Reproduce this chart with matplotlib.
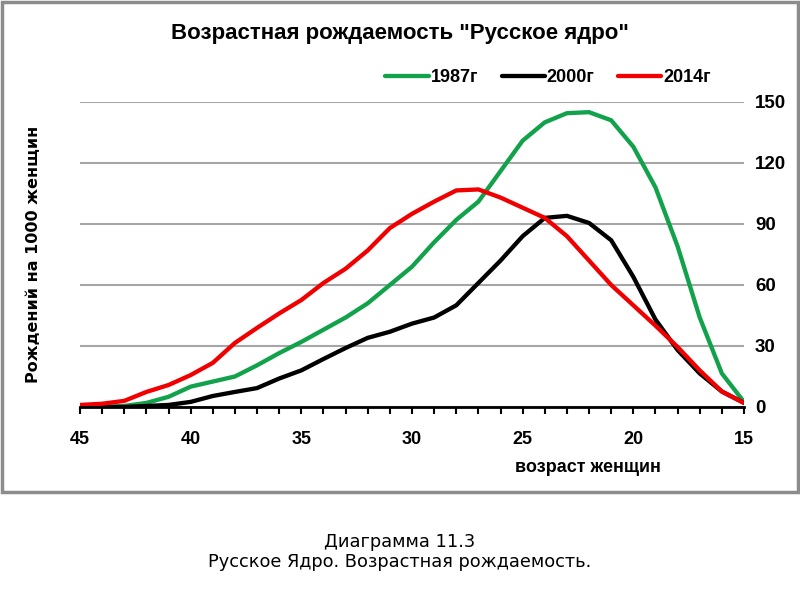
import numpy as np
import matplotlib.pyplot as plt
from matplotlib.patches import Rectangle

# age of women, from 45 down to 15
ages = list(range(45, 14, -1))

births_1987 = [0, 0, 0.5, 2, 5, 10, 12.5, 15, 20.5, 26.5, 32, 38, 44, 51, 60, 69,
               81, 92, 101, 116, 131, 140, 144.5, 145, 141, 128, 108, 79, 44, 16.5, 2.5]
births_2000 = [0, 0, 0, 0.5, 1, 2.5, 5.4, 7.4, 9.3, 14, 18, 23.6, 29, 34, 37, 41,
               44, 50, 61, 72, 84, 93, 94, 90.5, 82, 64, 43, 28, 16.5, 7.6, 2]
births_2014 = [1, 1.6, 3, 7.4, 10.8, 15.7, 21.7, 31.5, 38.9, 46, 52.6, 61, 68, 77, 88, 95,
               101, 106.5, 107, 103, 98, 93, 84, 72, 60, 50, 40, 29.5, 18, 7.6, 2]

series_labels = ["1987г", "2000г", "2014г"]
series_colors = ["#12a24b", "#000000", "#f00000"]

y_ticks = [0, 30, 60, 90, 120, 150]
x_ticks = [45, 40, 35, 30, 25, 20, 15]

plt.rcParams['font.family'] = ['Liberation Sans Narrow', 'Liberation Sans', 'DejaVu Sans']

fig = plt.figure(figsize=(8, 6), dpi=100)
ax = fig.add_axes([0.1, 0.3217, 0.83, 0.5083])

for vals, lab, col in zip([births_1987, births_2000, births_2014], series_labels, series_colors):
    ax.plot(ages, vals, color=col, lw=3.1, label=lab, solid_capstyle='round',
            solid_joinstyle='round')

ax.set_xlim(45, 15)
ax.set_ylim(0, 150)
ax.set_xticks(x_ticks)
ax.set_xticks(ages, minor=True)
ax.set_yticks(y_ticks)
ax.yaxis.tick_right()
ax.tick_params(axis='y', length=0, pad=8, labelsize=13.5)
ax.tick_params(axis='x', which='both', direction='out', length=5, width=1.5,
               labelsize=13, pad=12, color='black')
for lbl in ax.get_xticklabels() + ax.get_yticklabels():
    lbl.set_fontweight('bold')

ax.grid(axis='y', color='#a6a6a6', lw=1.5)
ax.set_axisbelow(True)
for side in ['top', 'left', 'right']:
    ax.spines[side].set_visible(False)
ax.spines['bottom'].set_linewidth(2)
ax.spines['bottom'].set_zorder(5)

ax.set_ylabel("Рождений на 1000 женщин", fontsize=11.5, fontweight='bold',
              family=['DejaVu Sans'], labelpad=0)
ax.yaxis.set_label_position('left')
ax.yaxis.set_label_coords(-0.058, 0.5)
ax.set_xlabel("возраст женщин", fontsize=13, fontweight='bold')
ax.xaxis.set_label_coords(0.765, -0.17)

fig.text(0.5, 0.945, 'Возрастная рождаемость "Русское ядро"', ha='center', va='center',
         fontsize=16, fontweight='bold')

leg = ax.legend(loc='center', bbox_to_anchor=(0.705, 1.079), ncol=3, frameon=False,
                handlelength=2.4, handletextpad=0.1, columnspacing=1.3,
                prop={'size': 13, 'weight': 'bold'})

fig.patches.append(Rectangle((0.003, 0.18), 0.994, 0.817, transform=fig.transFigure,
                             fill=False, edgecolor='#8c8c8c', lw=2.5))

fig.text(0.5, 0.08, "Диаграмма 11.3\nРусское Ядро. Возрастная рождаемость.",
         ha='center', va='center', fontsize=12.8, family=['DejaVu Sans'],
         linespacing=1.15)

fig.savefig("out.png", dpi=100)
